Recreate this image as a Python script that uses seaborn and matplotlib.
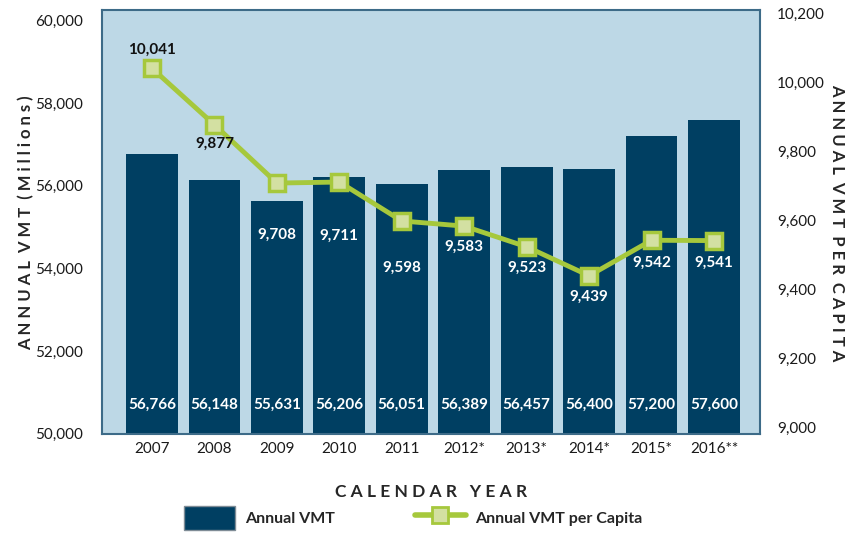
import numpy as np
import pandas as pd
import matplotlib
matplotlib.use("Agg")
import matplotlib.pyplot as plt
import seaborn as sns
from matplotlib.lines import Line2D
from matplotlib.patches import Patch
from matplotlib.ticker import FuncFormatter

# ------------------ Data ------------------
years = ["2007", "2008", "2009", "2010", "2011", "2012*", "2013*", "2014*", "2015*", "2016**"]
annual_vmt = [56766, 56148, 55631, 56206, 56051, 56389, 56457, 56400, 57200, 57600]
vmt_per_capita = [10041, 9877, 9708, 9711, 9598, 9583, 9523, 9439, 9542, 9541]

df = pd.DataFrame({"year": years, "vmt": annual_vmt, "per_capita": vmt_per_capita})

# ------------------ Style ------------------
sns.set_style("white")
plt.rcParams["font.family"] = ["Lato", "DejaVu Sans"]

BAR = "#003f62"
BG = "#bdd8e6"
LINE = "#a6c83c"
MFACE = "#d3e0a2"

fig = plt.figure(figsize=(8.58, 5.33), dpi=100)
ax = fig.add_axes([0.119, 0.186, 0.767, 0.795])
ax.set_facecolor(BG)

sns.barplot(data=df, x="year", y="vmt", color=BAR, width=0.83, saturation=1,
            linewidth=0, ax=ax)
ax.set_ylim(50000, 60250)
ax.set_xlim(-0.8, 9.74)
ax.yaxis.set_major_formatter(FuncFormatter(lambda v, p: f"{v:,.0f}"))
ax.set_yticks(np.arange(50000, 60001, 2000))
ax.tick_params(axis="both", length=0, labelsize=11, pad=6, labelcolor="#1a1a1a")
ax.tick_params(axis="y", pad=14)
ax.set_xlabel("C A L E N D A R   Y E A R", fontsize=12.5, fontweight="bold", labelpad=20)
ax.set_ylabel("")
for s in ax.spines.values():
    s.set_color("#3d6b88")
    s.set_linewidth(1.5)

for i, v in enumerate(annual_vmt):
    ax.text(i, 50700, f"{v:,}", color="white", fontsize=11, fontweight="bold",
            ha="center", va="center")

# per-capita line on the right axis
ax2 = ax.twinx()
sns.lineplot(x=np.arange(len(years)), y=vmt_per_capita, ax=ax2, color=LINE, linewidth=3.5,
             marker="s", markersize=11, markerfacecolor=MFACE, markeredgecolor=LINE,
             markeredgewidth=2.5)
ax2.set_ylim(8980, 10210)
ax2.set_yticks(np.arange(9000, 10201, 200))
ax2.yaxis.set_major_formatter(FuncFormatter(lambda v, p: f"{v:,.0f}"))
ax2.tick_params(axis="y", length=0, labelsize=11, pad=12, labelcolor="#1a1a1a")
for s in ax2.spines.values():
    s.set_visible(False)

# label offsets in points (negative = below the marker)
offsets = [13, -14, -37, -39, -34, -15, -15, -15, -16, -16]
for i, v in enumerate(vmt_per_capita):
    col = "#111111" if i < 2 else "white"
    ax2.annotate(f"{v:,}", (i, v), xytext=(0, offsets[i]), textcoords="offset points",
                 color=col, fontsize=11, fontweight="bold", ha="center", va="center")

# axis titles placed by hand (letter-spaced look)
fig.text(0.030, 0.583, "A N N U A L  V M T  ( M i l l i o n s )", rotation=90,
         fontsize=12, fontweight="bold", ha="center", va="center")
fig.text(0.976, 0.583, "A N N U A L  V M T  P E R  C A P I T A", rotation=-90,
         fontsize=12, fontweight="bold", ha="center", va="center")

# ------------------ Legend ------------------
handles = [
    Patch(facecolor=BAR, edgecolor="#7f8c96", linewidth=1),
    Line2D([0], [0], color=LINE, linewidth=4, marker="s", markersize=12,
           markerfacecolor=MFACE, markeredgecolor=LINE, markeredgewidth=2),
]
fig.legend(handles, ["Annual VMT", "Annual VMT per Capita"], loc="center left",
           bbox_to_anchor=(0.198, 0.028), ncol=2, frameon=False, handlelength=3.2,
           handleheight=1.9, handletextpad=0.6, columnspacing=5.0,
           prop={"weight": "bold", "size": 11.5})

plt.savefig("out.png", dpi=100)
